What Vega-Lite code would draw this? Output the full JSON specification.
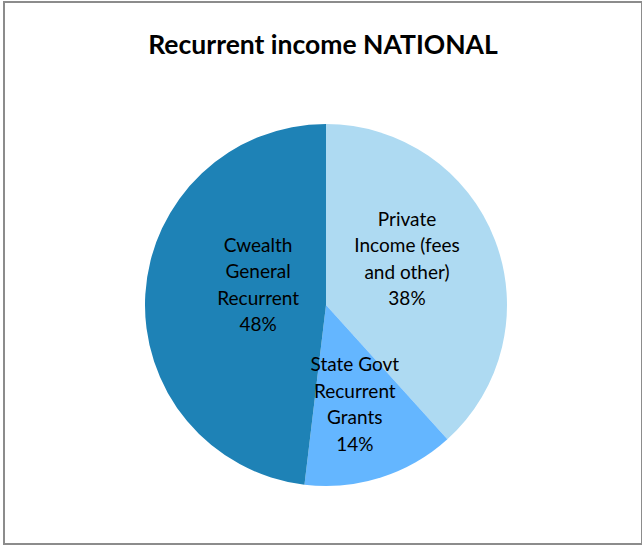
{
  "$schema": "https://vega.github.io/schema/vega-lite/v6.json",
  "width": 642,
  "height": 545,
  "autosize": {"type": "fit", "contains": "padding"},
  "padding": {"left": 4, "top": 2, "right": 0, "bottom": 1},
  "background": "white",
  "view": {"stroke": "#8c8c8c", "strokeWidth": 2},
  "title": {
    "text": "Recurrent income NATIONAL",
    "font": "Lato",
    "fontSize": 26.5,
    "fontWeight": "bold",
    "color": "#000000",
    "anchor": "middle",
    "offset": -57
  },
  "data": {
    "values": [
      {"idx": 1, "category": "Private Income (fees and other)", "share": 38.3, "label": "Private\nIncome (fees\nand other)\n38%"},
      {"idx": 2, "category": "State Govt Recurrent Grants", "share": 13.6, "label": "State Govt\nRecurrent\nGrants\n14%"},
      {"idx": 3, "category": "Cwealth General Recurrent", "share": 48.1, "label": "Cwealth\nGeneral\nRecurrent\n48%"}
    ]
  },
  "transform": [
    {"stack": "share", "sort": [{"field": "idx", "order": "ascending"}], "as": ["s0", "s1"]},
    {"calculate": "(datum.s0 + datum.s1) / 2", "as": "mid"}
  ],
  "layer": [
    {
      "mark": {"type": "arc", "outerRadius": 181, "xOffset": 3, "yOffset": 32},
      "encoding": {
        "theta": {"field": "s0", "type": "quantitative", "scale": {"domain": [0, 100]}},
        "theta2": {"field": "s1"},
        "color": {
          "field": "category",
          "type": "nominal",
          "scale": {
            "domain": ["Private Income (fees and other)", "State Govt Recurrent Grants", "Cwealth General Recurrent"],
            "range": ["#AEDAF2", "#64B6FF", "#1E82B6"]
          },
          "legend": null
        }
      }
    },
    {
      "transform": [{"filter": "datum.idx == 1"}],
      "mark": {"type": "text", "radius": 90, "xOffset": 3, "yOffset": 32, "dx": -3, "dy": -53, "font": "Lato", "fontSize": 19, "lineHeight": 26.5, "color": "#000000", "align": "center", "baseline": "middle", "lineBreak": "\n"},
      "encoding": {
        "theta": {"field": "mid", "type": "quantitative", "scale": {"domain": [0, 100]}},
        "text": {"field": "label"}
      }
    },
    {
      "transform": [{"filter": "datum.idx == 2"}],
      "mark": {"type": "text", "radius": 105, "xOffset": 3, "yOffset": 32, "dx": -3, "dy": -40, "font": "Lato", "fontSize": 19, "lineHeight": 26.5, "color": "#000000", "align": "center", "baseline": "middle", "lineBreak": "\n"},
      "encoding": {
        "theta": {"field": "mid", "type": "quantitative", "scale": {"domain": [0, 100]}},
        "text": {"field": "label"}
      }
    },
    {
      "transform": [{"filter": "datum.idx == 3"}],
      "mark": {"type": "text", "radius": 68, "xOffset": 3, "yOffset": 32, "dx": 0, "dy": -55, "font": "Lato", "fontSize": 19, "lineHeight": 26.5, "color": "#000000", "align": "center", "baseline": "middle", "lineBreak": "\n"},
      "encoding": {
        "theta": {"field": "mid", "type": "quantitative", "scale": {"domain": [0, 100]}},
        "text": {"field": "label"}
      }
    }
  ]
}
